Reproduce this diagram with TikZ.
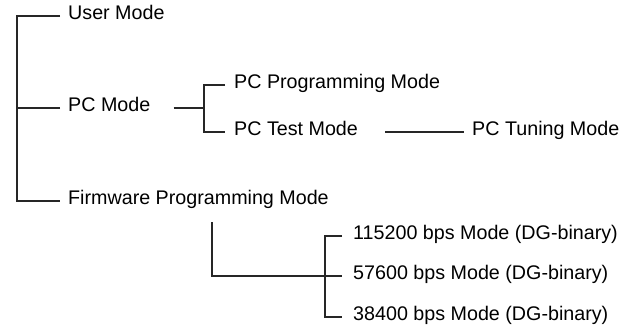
\documentclass[tikz,border=0pt]{standalone}
\usepackage{fontspec}
\setmainfont{Liberation Sans}
\begin{document}
\begin{tikzpicture}[x=1pt,y=-1pt,
  lbl/.style={anchor=west,inner sep=0pt,text height=0.72em,text depth=0pt,font=\fontsize{19.7}{22}\selectfont},
  conn/.style={line width=1.1pt,black!85}]
\useasboundingbox (0,0) rectangle (632,326);
\node[lbl] (um) at (68,16) {User Mode};
\node[lbl] (pc) at (68,108) {PC Mode};
\node[lbl] (fw) at (68,201) {Firmware Programming Mode};
\node[lbl] (pcp) at (234,85) {PC Programming Mode};
\node[lbl] (pct) at (234,132) {PC Test Mode};
\node[lbl] (pctu) at (472,132) {PC Tuning Mode};
\node[lbl] (b1) at (353,236) {115200 bps Mode (DG-binary)};
\node[lbl] (b2) at (353,276) {57600 bps Mode (DG-binary)};
\node[lbl] (b3) at (353,317) {38400 bps Mode (DG-binary)};
\coordinate (sp) at (17,0);
\coordinate (pcj) at (204,0);
\coordinate (fwj) at (212,222);
\coordinate (bj) at (325,0);
\draw[conn] ([xshift=-8pt]um.west) -| (sp |- fw.west) -- ([xshift=-8pt]fw.west);
\draw[conn] ([xshift=-8pt]pc.west) -- (sp |- pc.west);
\draw[conn] ([xshift=23pt]pc.east) -- (pcj |- pc.west);
\draw[conn] ([xshift=-9pt]pcp.west) -| (pcj |- pct.west) -- ([xshift=-9pt]pct.west);
\draw[conn] ([xshift=27pt]pct.east) -- ([xshift=-8pt]pctu.west);
\draw[conn] (fwj) |- ([xshift=-11pt]b2.west);
\draw[conn] ([xshift=-11pt]b1.west) -| (bj |- b3.west) -- ([xshift=-11pt]b3.west);
\end{tikzpicture}
\end{document}
